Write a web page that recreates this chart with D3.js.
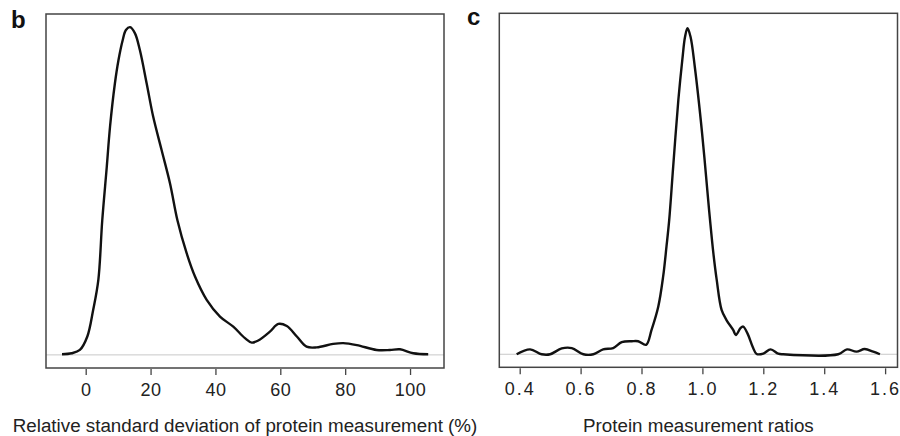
<!DOCTYPE html>
<html>
<head>
<meta charset="utf-8">
<script src="https://cdn.jsdelivr.net/npm/d3@7"></script>
<style>
    body { margin: 0; background: #fff; }
    svg text { font-family: "Liberation Sans", Arial, sans-serif; fill: #222; }
</style>
</head>
<body>
<svg id="canvas" width="900" height="436"></svg>
<script>
// panel b - relative standard deviation (%), density scaled to peak = 1
let rsdX = [-7.3, -4.3, -1.8, 0.5, 2.3, 3.9, 5.1, 6.5, 7.5, 9.0, 10.1, 11.4, 12.4, 13.7, 15.2, 16.7, 18.8, 20.8,
    23.4, 26.0, 28.3, 31.1, 33.7, 37.3, 41.4, 45.5, 49.1, 51.2, 53.2, 56.8, 59.4, 62.0, 65.1, 68.1, 71.2,
    76.3, 79.4, 83.6, 89.7, 93.8, 96.9, 101.0, 105.6];
let rsdDensity = [0.002, 0.005, 0.015, 0.056, 0.137, 0.229, 0.41, 0.574, 0.696, 0.828, 0.899, 0.96, 0.991, 1.0, 0.981, 0.93, 0.828, 0.727,
    0.625, 0.523, 0.41, 0.311, 0.239, 0.168, 0.117, 0.086, 0.051, 0.0375, 0.044, 0.071, 0.0945, 0.088, 0.056, 0.025, 0.023,
    0.0335, 0.036, 0.03, 0.015, 0.015, 0.017, 0.005, 0.002];
let rsdTicks = [0, 20, 40, 60, 80, 100];

// panel c - protein measurement ratios
let ratioX = [0.39, 0.434, 0.472, 0.5, 0.538, 0.571, 0.609, 0.642, 0.674, 0.707, 0.735, 0.768, 0.789, 0.815, 0.833, 0.855,
    0.871, 0.882, 0.891, 0.904, 0.921, 0.934, 0.943, 0.951, 0.961, 0.975, 0.999, 1.019, 1.025, 1.036, 1.047, 1.063,
    1.079, 1.101, 1.11, 1.125, 1.134, 1.148, 1.165, 1.178, 1.2, 1.224, 1.249, 1.265, 1.446, 1.475, 1.506, 1.533, 1.561, 1.583];
let ratioDensity = [0.0, 0.015, 0.0, 0.0, 0.018, 0.019, 0.0, 0.0, 0.015, 0.019, 0.037, 0.04, 0.04, 0.029, 0.075, 0.146,
    0.238, 0.33, 0.412, 0.575, 0.78, 0.903, 0.974, 1.0, 0.974, 0.882, 0.678, 0.473, 0.412, 0.31, 0.228, 0.136,
    0.105, 0.0745, 0.059, 0.08, 0.085, 0.064, 0.023, 0.001, 0.002, 0.015, 0.002, 0.0, 0.0, 0.015, 0.008, 0.016, 0.008, 0.0];
let ratioTicks = [0.4, 0.6, 0.8, 1.0, 1.2, 1.4, 1.6];

let canvas = d3.select('#canvas');

let drawPanel = (opts) => {
    let g = canvas.append('g');

    let xScale = d3.scaleLinear()
        .domain(opts.xDomain)
        .range([opts.left, opts.right]);
    let yScale = d3.scaleLinear()
        .domain(opts.yDomain)
        .range([opts.bottom, opts.top]);

    // gray zero line
    g.append('line')
        .attr('x1', opts.left)
        .attr('x2', opts.right)
        .attr('y1', yScale(0))
        .attr('y2', yScale(0))
        .attr('stroke', '#c8c8c8')
        .attr('stroke-width', 1);

    let points = opts.xs.map((x, i) => [x, opts.ys[i]]);
    let line = d3.line()
        .x((d) => xScale(d[0]))
        .y((d) => yScale(d[1]))
        .curve(d3.curveCatmullRom.alpha(0.5));

    g.append('path')
        .attr('d', line(points))
        .attr('fill', 'none')
        .attr('stroke', '#111')
        .attr('stroke-width', 2.4)
        .attr('stroke-linejoin', 'round');

    // box
    g.append('rect')
        .attr('x', opts.left)
        .attr('y', opts.top)
        .attr('width', opts.right - opts.left)
        .attr('height', opts.bottom - opts.top)
        .attr('fill', 'none')
        .attr('stroke', '#444')
        .attr('stroke-width', 1.5);

    let axis = d3.axisBottom(xScale)
        .tickValues(opts.ticks)
        .tickFormat(opts.format)
        .tickSize(6)
        .tickPadding(8);

    let axisG = g.append('g')
        .attr('transform', 'translate(0,' + (opts.bottom + 1) + ')')
        .call(axis);
    axisG.select('.domain').remove();
    axisG.selectAll('.tick line')
        .attr('stroke', '#444')
        .attr('stroke-width', 1.3);
    axisG.selectAll('.tick text')
        .attr('font-size', 18)
        .attr('letter-spacing', opts.spacing)
        .attr('fill', '#222')
        .style('font-family', '"Liberation Sans", Arial, sans-serif');

    g.append('text')
        .attr('x', (opts.left + opts.right) / 2)
        .attr('y', 432)
        .attr('text-anchor', 'middle')
        .attr('font-size', 18.8)
        .text(opts.title);

    g.append('text')
        .attr('x', opts.labelX)
        .attr('y', opts.labelY)
        .attr('font-size', 24)
        .attr('font-weight', 'bold')
        .style('fill', '#111')
        .text(opts.label);
}

drawPanel({
    xs: rsdX, ys: rsdDensity, ticks: rsdTicks,
    format: d3.format('d'),
    xDomain: [-12.24, 110.47], yDomain: [-0.04, 1.04],
    left: 46, right: 444, top: 14, bottom: 368,
    spacing: 0.5,
    title: 'Relative standard deviation of protein measurement (%)',
    label: 'b', labelX: 11, labelY: 28
});

drawPanel({
    xs: ratioX, ys: ratioDensity, ticks: ratioTicks,
    format: d3.format('.1f'),
    xDomain: [0.333, 1.6407], yDomain: [-0.04, 1.046],
    left: 499.3, right: 897.5, top: 13.3, bottom: 367.3,
    spacing: 2,
    title: 'Protein measurement ratios',
    label: 'c', labelX: 467, labelY: 25
});
</script>
</body>
</html>
